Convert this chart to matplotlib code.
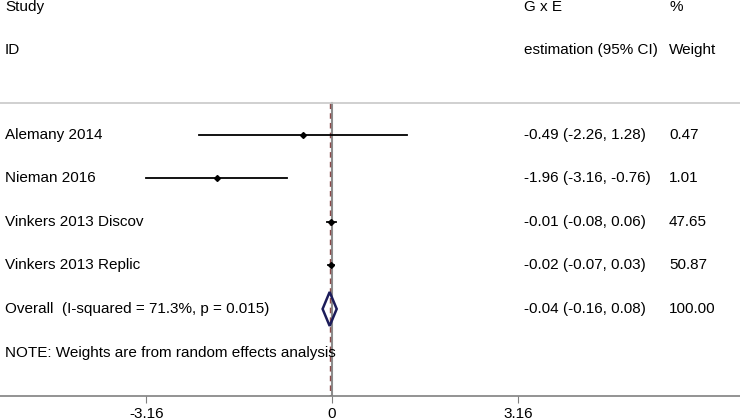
import matplotlib
matplotlib.use("Agg")
import matplotlib.pyplot as plt
from matplotlib.patches import Polygon

plt.rcParams['font.family'] = ['Liberation Sans', 'DejaVu Sans']

studies = ["Alemany 2014", "Nieman 2016", "Vinkers 2013 Discov", "Vinkers 2013 Replic"]
est = [-0.49, -1.96, -0.01, -0.02]
lo = [-2.26, -3.16, -0.08, -0.07]
hi = [1.28, -0.76, 0.06, 0.03]
weights = ["0.47", "1.01", "47.65", "50.87"]

overall_label = "Overall  (I-squared = 71.3%, p = 0.015)"
overall = [-0.04, -0.16, 0.08]
overall_w = "100.00"
note = "NOTE: Weights are from random effects analysis"
xticks = [-3.16, 0, 3.16]

fig = plt.figure(figsize=(7.4, 4.2), dpi=100)
ax = fig.add_axes([0, 24 / 420, 1, 396 / 420])
# zero at ~332 px, 58.8 px per unit
ax.set_xlim(-332 / 58.8, (740 - 332) / 58.8)
ax.set_ylim(7.0, -2.1)

fs = 11
x_lab = -327 / 58.8
x_est = (524 - 332) / 58.8
x_w = (669 - 332) / 58.8

# header
ax.text(x_lab, -1.94, "Study", fontsize=fs, va='center')
ax.text(x_lab, -0.95, "ID", fontsize=fs, va='center')
ax.text(x_est, -1.94, "G x E", fontsize=fs, va='center')
ax.text(x_est, -0.95, "estimation (95% CI)", fontsize=fs, va='center')
ax.text(x_w, -1.94, "%", fontsize=fs, va='center')
ax.text(x_w, -0.95, "Weight", fontsize=fs, va='center')
ax.axhline(0.26, color='#c8c8c8', lw=1.2)

# reference lines
ax.plot([0, 0], [0.26, 7.0], color='#8c8c8c', lw=1.5, zorder=1)
ax.plot([overall[0], overall[0]], [0.26, 7.0], color='#8b4a4a', lw=1, ls=(0, (4, 3)), zorder=1)

for i, (s, e, l, h, w) in enumerate(zip(studies, est, lo, hi, weights)):
    y = i + 1
    ax.plot([l, h], [y, y], color='black', lw=1.3, zorder=3)
    ax.plot(e, y, marker='D', color='black', ms=3, zorder=4)
    ax.text(x_lab, y, s, fontsize=fs, va='center')
    ax.text(x_est, y, "%.2f (%.2f, %.2f)" % (e, l, h), fontsize=fs, va='center')
    ax.text(x_w, y, w, fontsize=fs, va='center')

y = 5
dia = Polygon([[overall[1], y], [overall[0], y - 0.39], [overall[2], y], [overall[0], y + 0.39]],
              closed=True, fill=False, edgecolor='#1c1c5a', lw=1.8, zorder=4)
ax.add_patch(dia)
ax.text(x_lab, y, overall_label, fontsize=fs, va='center')
ax.text(x_est, y, "%.2f (%.2f, %.2f)" % tuple(overall), fontsize=fs, va='center')
ax.text(x_w, y, overall_w, fontsize=fs, va='center')

ax.text(x_lab, 6.01, note, fontsize=fs, va='center')

for sp in ['top', 'left', 'right']:
    ax.spines[sp].set_visible(False)
ax.spines['bottom'].set_color('#808080')
ax.spines['bottom'].set_linewidth(1.2)
ax.set_yticks([])
ax.set_xticks(xticks)
ax.set_xticklabels(["-3.16", "0", "3.16"])
ax.tick_params(axis='x', length=5, color='#808080', labelsize=fs, pad=3)

fig.savefig("out.png", dpi=100)
